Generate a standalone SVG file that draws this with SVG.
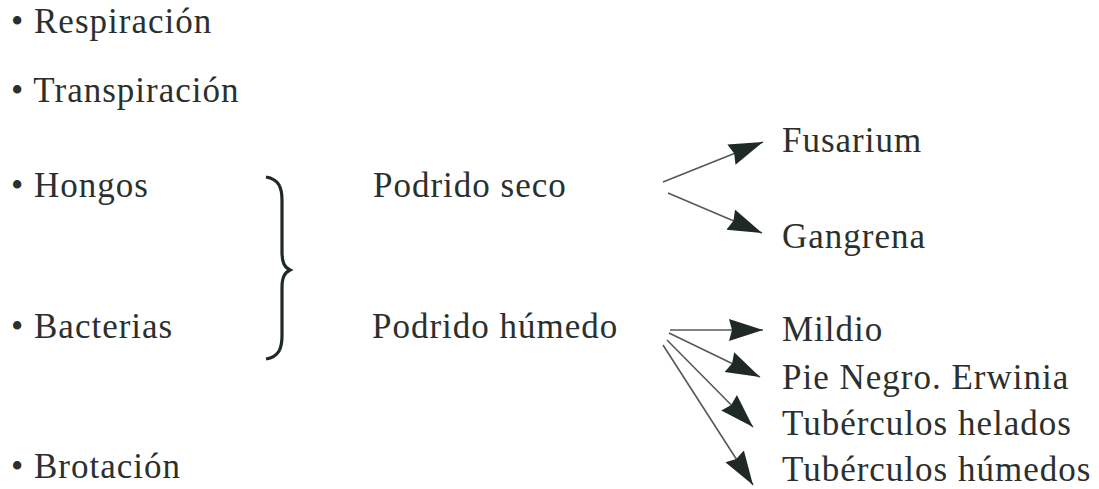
<svg xmlns="http://www.w3.org/2000/svg" width="1099" height="489" viewBox="0 0 1099 489">
<style>
text{font-family:"Liberation Serif","Times New Roman",serif;font-size:35px;fill:#2b302e;letter-spacing:1px}
.c line{stroke:#555a58;stroke-width:1.6}
</style>
<defs>
<marker id="ah" markerUnits="userSpaceOnUse" markerWidth="36" markerHeight="24" refX="34" refY="11" orient="auto">
<path d="M0,0 L34,11 L0,22 L3,11 z" fill="#1f2925"/>
</marker>
</defs>
<rect width="1099" height="489" fill="#fff"/>
<g id="respiracion"><text x="11" y="33">• Respiración</text></g>
<g id="transpiracion"><text x="11" y="102">• Transpiración</text></g>
<g id="hongos"><text x="11" y="197">• Hongos</text></g>
<g id="bacterias"><text x="11" y="338">• Bacterias</text></g>
<g id="brotacion"><text x="11" y="478">• Brotación</text></g>
<g id="brace"><path d="M266,177 C279,179 282,188 282,200 L282,252 C282,262 284,267 290,270 C284,273 282,278 282,288 L282,336 C282,348 279,357 266,359" fill="none" stroke="#1f2925" stroke-width="3.2"/></g>
<g id="podrido-seco"><text x="373" y="197">Podrido seco</text></g>
<g id="podrido-humedo"><text x="372" y="338">Podrido húmedo</text></g>
<g id="fusarium"><text x="782" y="152">Fusarium</text></g>
<g id="gangrena"><text x="782" y="248">Gangrena</text></g>
<g id="mildio"><text x="782" y="341">Mildio</text></g>
<g id="pie-negro"><text x="782" y="389">Pie Negro. Erwinia</text></g>
<g id="tub-helados"><text x="782" y="435">Tubérculos helados</text></g>
<g id="tub-humedos"><text x="782" y="481">Tubérculos húmedos</text></g>
<g id="connectors" class="c">
<line x1="663" y1="182" x2="763" y2="142" marker-end="url(#ah)"/>
<line x1="668" y1="193" x2="762" y2="233" marker-end="url(#ah)"/>
<line x1="670" y1="330" x2="763" y2="330" marker-end="url(#ah)"/>
<line x1="669" y1="333" x2="760" y2="377" marker-end="url(#ah)"/>
<line x1="667" y1="340" x2="753" y2="427" marker-end="url(#ah)"/>
<line x1="663" y1="345" x2="753" y2="485" marker-end="url(#ah)"/>
</g>
</svg>
